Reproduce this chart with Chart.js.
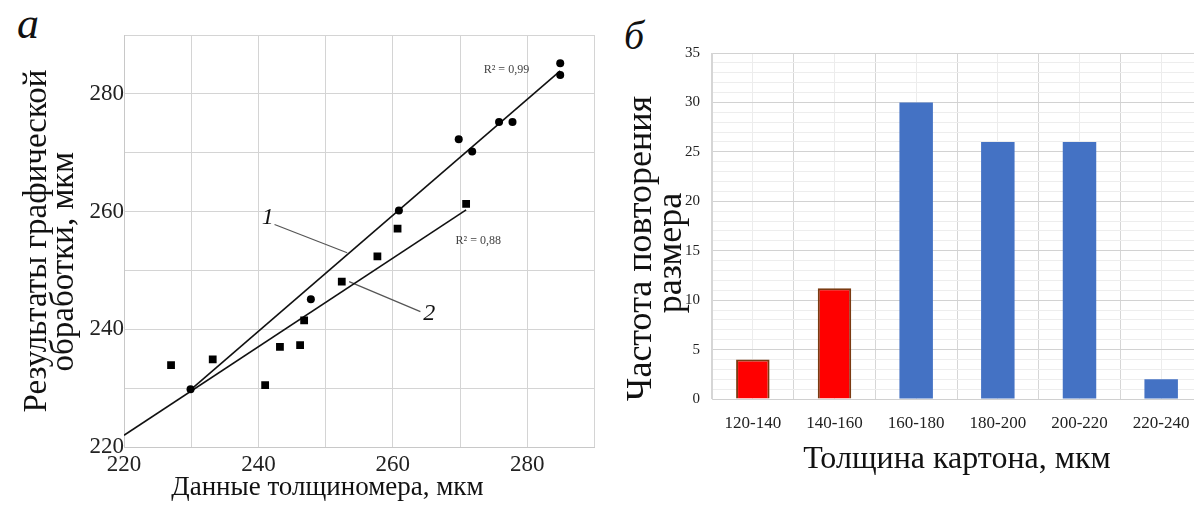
<!DOCTYPE html>
<html lang="ru">
<head>
<meta charset="utf-8">
<title>Толщина картона</title>
<script src="https://cdn.jsdelivr.net/npm/chart.js@4.4.1/dist/chart.umd.min.js"></script>
<style>
  html, body { margin: 0; padding: 0; background: #fff; }
  body { width: 1194px; height: 510px; overflow: hidden; position: relative; }
  .panel { position: absolute; top: 0; height: 510px; }
  #leftBox { left: 0; width: 600px; }
  #rightBox { left: 600px; width: 604px; }
  .mark { position: absolute; font-family: "Liberation Serif", "Times New Roman", serif; font-style: italic; color: #111; line-height: 1; }
</style>
</head>
<body>
<div class="mark" style="left:17px; top:2px; font-size:44px;">а</div>
<div class="mark" style="left:624px; top:16px; font-size:40px;">б</div>
<div class="panel" id="leftBox"><canvas id="thicknessChart"></canvas></div>
<div class="panel" id="rightBox"><canvas id="histChart"></canvas></div>
<script>
// а: данные толщиномера (x) против графической обработки (y), мкм
const circleX = [229.9, 247.8, 260.9, 269.8, 271.8, 275.8, 277.8, 284.9, 284.9];
const circleY = [229.8, 245.1, 260.2, 272.3, 270.2, 275.2, 275.2, 285.2, 283.2];
const squareX = [227.0, 233.2, 241.0, 243.2, 246.2, 246.8, 252.4, 257.7, 260.7, 270.9];
const squareY = [233.9, 234.9, 230.5, 237.0, 237.3, 241.5, 248.1, 252.4, 257.1, 261.3];
// линии тренда (концы)
const trend1X = [229.9, 284.9];
const trend1Y = [229.7, 283.9];
const trend2X = [220, 270.9];
const trend2Y = [222.0, 260.3];
const leftTicks = [220, 240, 260, 280];

// б: распределение толщины картона
const sizeBins = ['120-140', '140-160', '160-180', '180-200', '200-220', '220-240'];
const binCounts = [4, 11.2, 30, 26, 26, 2];
const countTicks = [0, 5, 10, 15, 20, 25, 30, 35];

const serif = '"Liberation Serif", "Times New Roman", serif';
const barFill = ['#ff0000', '#ff0000', '#4472c4', '#4472c4', '#4472c4', '#4472c4'];
const barEdge = ['#7a3b12', '#7a3b12', '#4472c4', '#4472c4', '#4472c4', '#4472c4'];

function toPoints(xs, ys) {
    return xs.map((x, i) => ({ x: x, y: ys[i] }));
}

// подписи внутри графика (в единицах осей)
const notesPlugin = {
    id: 'notes',
    afterDatasetsDraw(chart, args, opts) {
        const { ctx, scales } = chart;
        ctx.save();
        ctx.textAlign = 'center';
        ctx.textBaseline = 'middle';
        (opts.items || []).forEach(n => {
            ctx.font = n.font;
            ctx.fillStyle = n.color;
            ctx.fillText(n.text, scales.x.getPixelForValue(n.x), scales.y.getPixelForValue(n.y));
        });
        ctx.restore();
    }
};

function initializeCharts() {
    Chart.defaults.font.family = serif;
    Chart.defaults.color = '#222';

    const leftCtx = document.getElementById('thicknessChart').getContext('2d');
    new Chart(leftCtx, {
        type: 'scatter',
        data: {
            datasets: [
                {
                    label: '1',
                    data: toPoints(circleX, circleY),
                    pointStyle: 'circle',
                    pointRadius: 4,
                    backgroundColor: '#000',
                    borderColor: '#000',
                    borderWidth: 0
                },
                {
                    label: '2',
                    data: toPoints(squareX, squareY),
                    pointStyle: 'rect',
                    pointRadius: 5.5,
                    backgroundColor: '#000',
                    borderColor: '#000',
                    borderWidth: 0
                },
                {
                    label: 'тренд 1',
                    data: toPoints(trend1X, trend1Y),
                    showLine: true,
                    pointRadius: 0,
                    borderColor: '#111',
                    borderWidth: 1.6
                },
                {
                    label: 'тренд 2',
                    data: toPoints(trend2X, trend2Y),
                    showLine: true,
                    pointRadius: 0,
                    borderColor: '#111',
                    borderWidth: 1.6
                },
                {
                    label: 'выноска 1',
                    data: [{ x: 242.4, y: 257.8 }, { x: 253.2, y: 253.0 }],
                    showLine: true,
                    pointRadius: 0,
                    borderColor: '#555',
                    borderWidth: 1.2
                },
                {
                    label: 'выноска 2',
                    data: [{ x: 253.5, y: 248.1 }, { x: 264.1, y: 243.0 }],
                    showLine: true,
                    pointRadius: 0,
                    borderColor: '#555',
                    borderWidth: 1.2
                }
            ]
        },
        options: {
            responsive: true,
            maintainAspectRatio: false,
            animation: false,
            layout: { padding: { top: 35, right: 4, left: 0, bottom: 0 } },
            plugins: {
                legend: { display: false },
                tooltip: { enabled: false },
                notes: {
                    items: [
                        { text: 'R² = 0,99', x: 276.9, y: 284.0, font: '12px ' + serif, color: '#444' },
                        { text: 'R² = 0,88', x: 272.7, y: 255.0, font: '12px ' + serif, color: '#444' },
                        { text: '1', x: 241.4, y: 259.0, font: 'italic 24px ' + serif, color: '#111' },
                        { text: '2', x: 265.4, y: 242.6, font: 'italic 24px ' + serif, color: '#111' }
                    ]
                }
            },
            scales: {
                x: {
                    type: 'linear',
                    min: 220,
                    max: 290,
                    afterFit: s => { s.height = 63; },
                    ticks: {
                        stepSize: 10,
                        autoSkip: false,
                        maxRotation: 0,
                        padding: 4,
                        font: { size: 23 },
                        callback: v => leftTicks.includes(v) ? v : ''
                    },
                    grid: { color: '#d4d4d4', drawTicks: false },
                    border: { color: '#c8c8c8' },
                    title: {
                        display: true,
                        align: 'start',
                        text: '       Данные толщиномера, мкм',
                        font: { size: 27, lineHeight: 1 },
                        color: '#111',
                        padding: { top: 0, bottom: 9 }
                    }
                },
                y: {
                    type: 'linear',
                    min: 220,
                    max: 290,
                    afterFit: s => { s.width = 124; },
                    ticks: {
                        stepSize: 10,
                        autoSkip: false,
                        padding: 0,
                        font: { size: 23 },
                        callback: v => leftTicks.includes(v) ? v : ''
                    },
                    grid: { color: '#d4d4d4', drawTicks: false },
                    border: { color: '#c8c8c8' },
                    title: {
                        display: true,
                        text: ['Результаты графической', 'обработки, мкм     '],
                        font: { size: 33, lineHeight: 0.82 },
                        color: '#111',
                        padding: { top: 24, bottom: 0 }
                    }
                }
            }
        },
        plugins: [notesPlugin]
    });

    const rightCtx = document.getElementById('histChart').getContext('2d');
    new Chart(rightCtx, {
        type: 'bar',
        data: {
            labels: sizeBins,
            datasets: [{
                label: 'Частота',
                data: binCounts,
                backgroundColor: barFill,
                borderColor: barEdge,
                borderWidth: [2, 2, 0, 0, 0, 0],
                categoryPercentage: 1.0,
                barPercentage: 0.41
            }]
        },
        options: {
            responsive: true,
            maintainAspectRatio: false,
            animation: false,
            layout: { padding: { top: 53, right: 2, left: 0, bottom: 0 } },
            plugins: {
                legend: { display: false },
                tooltip: { enabled: false }
            },
            scales: {
                x: {
                    offset: true,
                    afterFit: s => { s.height = 111; },
                    ticks: { padding: 14, maxRotation: 0, font: { size: 17 } },
                    grid: { offset: true, color: '#d6d6d6', drawTicks: false },
                    border: { color: '#d0d0d0' },
                    title: {
                        display: true,
                        text: 'Толщина картона, мкм',
                        font: { size: 32, lineHeight: 1 },
                        color: '#111',
                        padding: { top: 0, bottom: 34 }
                    }
                },
                x2: {
                    type: 'category',
                    position: 'bottom',
                    offset: true,
                    afterFit: s => { s.height = 0; },
                    ticks: { display: false },
                    grid: { offset: false, color: '#ececec', drawTicks: false },
                    border: { display: false }
                },
                y: {
                    min: 0,
                    max: 35,
                    afterFit: s => { s.width = 112; },
                    ticks: {
                        stepSize: 1,
                        autoSkip: false,
                        padding: 12,
                        font: { size: 15 },
                        callback: v => countTicks.includes(v) ? v : ''
                    },
                    grid: {
                        drawTicks: false,
                        color: c => (c.tick && c.tick.value % 5 === 0) ? '#d2d2d2' : '#ededed'
                    },
                    border: { color: '#d6d6d6' },
                    title: {
                        display: true,
                        text: ['Частота повторения     ', 'размера      '],
                        font: { size: 36, lineHeight: 0.85 },
                        color: '#111',
                        padding: { top: 26, bottom: 0 }
                    }
                }
            }
        }
    });
}

if (typeof window !== "undefined") {
    if (document.readyState === "loading") {
        document.addEventListener("DOMContentLoaded", initializeCharts);
    } else {
        initializeCharts();
    }
}
</script>
</body>
</html>
